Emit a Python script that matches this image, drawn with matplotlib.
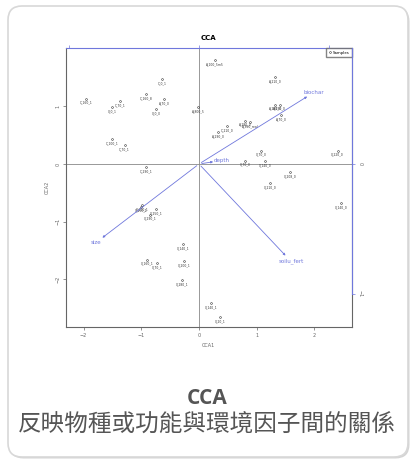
import matplotlib
matplotlib.use("Agg")
import matplotlib.pyplot as plt
import numpy as np
from matplotlib.patches import FancyBboxPatch
from matplotlib.transforms import IdentityTransform

# sample scores (CCA1, CCA2)
sample_x = [0.27, -0.64, 1.32, -1.96, -0.91, -1.37, -1.51, -0.60, -0.74, -0.01,
            1.32, 1.40, 1.42, 0.49, 0.33, 0.80, 0.88, -1.50, -1.29, -0.91,
            0.80, 1.07, 1.14, 1.58, 1.23, 2.40, -0.98, -1.01, -0.75, -0.85,
            2.46, -0.28, -0.90, -0.72, -0.26, -0.30, 0.21, 0.36]
sample_y = [1.80, 1.47, 1.50, 1.13, 1.21, 1.09, 0.98, 1.12, 0.95, 0.98,
            1.03, 1.03, 0.85, 0.65, 0.55, 0.75, 0.72, 0.43, 0.33, -0.05,
            0.06, 0.23, 0.05, -0.14, -0.33, 0.23, -0.71, -0.74, -0.78, -0.88,
            -0.68, -1.39, -1.66, -1.72, -1.68, -2.01, -2.41, -2.66]
sample_names = ["A_100_5m5", "C_0_1", "A_210_0", "C_160_1", "C_160_8", "C_70_1", "0_0_1",
                "A_70_0", "0_0_0", "A_800_5", "A_280_0", "A_290_0", "A_70_0", "C_210_0",
                "A_290_0", "A_280_0", "A_360_real", "C_100_1", "C_70_1", "C_290_1",
                "0_70_0", "0_70_0", "0_140_0", "0_208_0", "0_210_0", "0_220_0",
                "0_150_1", "0_150_1", "0_250_1", "0_290_1", "0_140_0", "0_140_1",
                "0_160_1", "0_70_1", "0_200_1", "0_280_1", "0_140_1", "0_20_1"]

# biplot arrows (environmental factors)
env_names = ["biochar", "depth", "size", "soilu_fert"]
env_x = [0.85, 0.13, -0.76, 0.68]
env_y = [0.53, 0.02, -0.58, -0.72]

blue = "#6f77dc"
grey = "#666666"

fig = plt.figure(figsize=(4.14, 4.59), dpi=100)

# card with shadow, behind everything
shadow = FancyBboxPatch((9.5, 0.5), 400, 451, boxstyle="round,pad=0,rounding_size=14",
                        transform=IdentityTransform(), facecolor="#d4d4d4", edgecolor="none", zorder=-20)
card = FancyBboxPatch((8, 2), 400, 451, boxstyle="round,pad=0,rounding_size=14",
                      transform=IdentityTransform(), facecolor="white", edgecolor="#d8d8d8", lw=1.2, zorder=-10)
fig.add_artist(shadow)
fig.add_artist(card)

ax = fig.add_axes([65.7 / 414, 1 - 327 / 459, (351.7 - 65.7) / 414, (327 - 48.3) / 459])
ax.patch.set_alpha(0)
ax.set_xlim(-2.31, 2.646)
ax.set_ylim(-2.825, 2.005)
ax.axhline(0, color="#888888", lw=0.6)
ax.axvline(0, color="#888888", lw=0.6)

ax.plot(sample_x, sample_y, "o", ms=1.3, mfc="none", mec="#333333", mew=0.4, label="Samples")
for x, y, name in zip(sample_x, sample_y, sample_names):
    ax.annotate(name, (x, y), xytext=(0, -1.5), textcoords="offset points",
                ha="center", va="top", fontsize=2.2, color="#333333")

ax.set_xticks([-2, -1, 0, 1, 2])
ax.set_yticks([-2, -1, 0, 1])
ax.tick_params(labelsize=3.5, colors=grey, length=2, width=0.5, pad=2)
plt.setp(ax.get_yticklabels(), rotation=90, va="center")
for side in ["left", "bottom"]:
    ax.spines[side].set_color(grey)
    ax.spines[side].set_linewidth(0.8)
ax.spines["top"].set_color(blue)
ax.spines["right"].set_color(grey)
ax.set_xlabel("CCA1", fontsize=3.5, color=grey, labelpad=4)
ax.set_ylabel("CCA2", fontsize=3.5, color=grey, labelpad=4)
ax.set_title("CCA", fontsize=5, fontweight="bold", pad=6)
ax.legend(loc="upper right", fontsize=2.8, borderaxespad=0, fancybox=False,
          edgecolor=grey, handlelength=0.6, handletextpad=0.4, borderpad=0.6, markerscale=1)

# biplot axes on top/right
k = 57.7 / 130
ax2 = fig.add_axes(ax.get_position(), frameon=False)
ax2.set_xlim(-2.31 * k, 2.646 * k)
ax2.set_ylim(-2.825 * k, 2.005 * k)
ax2.xaxis.set_ticks_position("top")
ax2.yaxis.set_ticks_position("right")
ax2.set_xticks([-1, 0, 1])
ax2.set_yticks([-1, 0])
ax2.tick_params(axis="x", labeltop=False, colors=blue, length=2, width=0.5)
ax2.tick_params(axis="y", labelsize=3.5, labelcolor=grey, colors=blue, length=2, width=0.5, pad=2)
plt.setp(ax2.get_yticklabels(), rotation=270, va="center")
ax2.plot([1, 1], [-1, 2.005 * k], transform=ax2.get_yaxis_transform(), color=blue, lw=0.8, clip_on=False)

for name, x, y in zip(env_names, env_x, env_y):
    ax2.annotate("", xy=(x, y), xytext=(0, 0),
                 arrowprops=dict(arrowstyle="-|>", color=blue, lw=0.6, mutation_scale=3))
    d = np.hypot(x, y)
    ax2.annotate(name, (x, y), xytext=(4 * x / d, 4 * y / d), textcoords="offset points",
                 ha="center", va="center", fontsize=4, color=blue)

fig.text(0.5, 1 - 399 / 459, "CCA", ha="center", va="center", fontsize=15,
         fontweight="bold", color="#555555", family=["Open Sans", "DejaVu Sans"])
fig.text(0.5, 1 - 425 / 459, "反映物種或功能與環境因子間的關係", ha="center", va="center",
         fontsize=17, color="#555555", family=["Noto Sans CJK TC", "DejaVu Sans"])

fig.savefig("out.png", dpi=100)
